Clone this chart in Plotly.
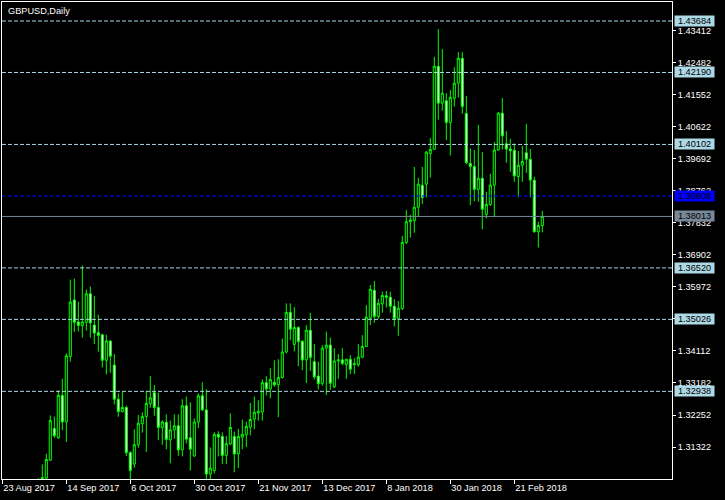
import pandas as pd
import plotly.graph_objects as go

# ---------------- data ----------------
chart_title = "GBPUSD,Daily"
first_day = "2017-08-23"
last_day = "2018-03-02"
holidays = ["2017-12-25", "2018-01-01"]

tick_dates = ["2017-08-23", "2017-09-14", "2017-10-06", "2017-10-30", "2017-11-21",
              "2017-12-13", "2018-01-08", "2018-01-30", "2018-02-21"]
tick_labels = ["23 Aug 2017", "14 Sep 2017", "6 Oct 2017", "30 Oct 2017", "21 Nov 2017",
               "13 Dec 2017", "8 Jan 2018", "30 Jan 2018", "21 Feb 2018"]

price_ticks = [1.31322, 1.32252, 1.33182, 1.34112, 1.35042, 1.35972, 1.36902,
               1.37832, 1.38762, 1.39692, 1.40622, 1.41552, 1.42482, 1.43412]

level_lines = [1.43684, 1.42190, 1.40102, 1.36520, 1.35026, 1.32938]
alert_level = 1.38608
bid_level = 1.38013

# daily candles, 5 Sep 2017 .. 2 Mar 2018 (earlier bars lie below the visible range)
open_ = [1.2935, 1.3000, 1.3042, 1.3094, 1.3186, 1.3159, 1.3282, 1.3205, 1.3395, 1.3559,
         1.3495, 1.3485, 1.3494, 1.3577, 1.3486, 1.3464, 1.3458, 1.3384, 1.3440, 1.3370,
         1.3271, 1.3235, 1.3247, 1.3116, 1.3083, 1.3139, 1.3200, 1.3221, 1.3258, 1.3290,
         1.3247, 1.3189, 1.3204, 1.3153, 1.3182, 1.3194, 1.3124, 1.3252, 1.3159, 1.3106,
         1.3205, 1.3281, 1.3240, 1.3054, 1.3064, 1.3169, 1.3163, 1.3108, 1.3141, 1.3163,
         1.3112, 1.3161, 1.3168, 1.3190, 1.3213, 1.3231, 1.3234, 1.3319, 1.3301, 1.3320,
         1.3313, 1.3334, 1.3408, 1.3523, 1.3430, 1.3479, 1.3439, 1.3385, 1.3471, 1.3380,
         1.3338, 1.3317, 1.3419, 1.3428, 1.3307, 1.3382, 1.3385, 1.3372, 1.3387, 1.3371,
         1.3371, 1.3393, 1.3424, 1.3506, 1.3587, 1.3511, 1.3548, 1.3571, 1.3567, 1.3541,
         1.3504, 1.3534, 1.3726, 1.3786, 1.3789, 1.3828, 1.3892, 1.3895, 1.3984, 1.3996,
         1.4237, 1.4130, 1.4137, 1.4074, 1.4144, 1.4188, 1.4260, 1.4100, 1.3955, 1.3946,
         1.3880, 1.3912, 1.3807, 1.3836, 1.3892, 1.3994, 1.4101, 1.4012, 1.3997, 1.3993,
         1.3917, 1.3950, 1.3986, 1.3967, 1.3906, 1.3757, 1.3775]
high = [1.3042, 1.3082, 1.3113, 1.3224, 1.3221, 1.3297, 1.3330, 1.3404, 1.3618, 1.3621,
        1.3554, 1.3659, 1.3589, 1.3598, 1.3571, 1.3516, 1.3461, 1.3458, 1.3443, 1.3402,
        1.3288, 1.3293, 1.3252, 1.3120, 1.3184, 1.3225, 1.3233, 1.3295, 1.3338, 1.3312,
        1.3290, 1.3210, 1.3227, 1.3209, 1.3227, 1.3227, 1.3271, 1.3279, 1.3262, 1.3215,
        1.3288, 1.3320, 1.3300, 1.3131, 1.3175, 1.3178, 1.3175, 1.3164, 1.3230, 1.3177,
        1.3185, 1.3212, 1.3206, 1.3260, 1.3279, 1.3268, 1.3329, 1.3338, 1.3361, 1.3384,
        1.3387, 1.3447, 1.3549, 1.3549, 1.3538, 1.3483, 1.3442, 1.3486, 1.3521, 1.3431,
        1.3380, 1.3428, 1.3467, 1.3450, 1.3419, 1.3402, 1.3419, 1.3387, 1.3399, 1.3390,
        1.3431, 1.3457, 1.3544, 1.3602, 1.3614, 1.3562, 1.3583, 1.3585, 1.3583, 1.3561,
        1.3556, 1.3745, 1.3820, 1.3806, 1.3945, 1.3913, 1.3945, 1.3991, 1.4029, 1.4264,
        1.4345, 1.4287, 1.4159, 1.4168, 1.4234, 1.4278, 1.4278, 1.4151, 1.3999, 1.3994,
        1.4067, 1.3988, 1.3873, 1.3925, 1.4017, 1.4104, 1.4145, 1.4049, 1.4026, 1.4013,
        1.3991, 1.4006, 1.4070, 1.3997, 1.3917, 1.3786, 1.3817]
low = [1.2925, 1.2985, 1.3030, 1.3092, 1.3159, 1.3156, 1.3181, 1.3147, 1.3380, 1.3466,
       1.3468, 1.3450, 1.3470, 1.3450, 1.3431, 1.3409, 1.3363, 1.3343, 1.3348, 1.3256,
       1.3220, 1.3233, 1.3106, 1.3028, 1.3072, 1.3130, 1.3174, 1.3118, 1.3246, 1.3223,
       1.3152, 1.3139, 1.3126, 1.3085, 1.3156, 1.3107, 1.3105, 1.3143, 1.3064, 1.3105,
       1.3187, 1.3237, 1.3037, 1.3037, 1.3056, 1.3105, 1.3083, 1.3083, 1.3138, 1.3059,
       1.3071, 1.3126, 1.3132, 1.3166, 1.3184, 1.3209, 1.3209, 1.3282, 1.3274, 1.3307,
       1.3219, 1.3331, 1.3404, 1.3442, 1.3410, 1.3367, 1.3355, 1.3318, 1.3353, 1.3328,
       1.3300, 1.3310, 1.3283, 1.3298, 1.3303, 1.3330, 1.3370, 1.3330, 1.3344, 1.3344,
       1.3365, 1.3390, 1.3423, 1.3486, 1.3493, 1.3504, 1.3522, 1.3537, 1.3522, 1.3482,
       1.3455, 1.3530, 1.3721, 1.3740, 1.3754, 1.3803, 1.3837, 1.3857, 1.3914, 1.3994,
       1.4082, 1.4108, 1.4023, 1.3978, 1.4120, 1.4147, 1.4100, 1.3953, 1.3834, 1.3846,
       1.3844, 1.3764, 1.3796, 1.3832, 1.3799, 1.3992, 1.3996, 1.3957, 1.3931, 1.3902,
       1.3857, 1.3902, 1.3928, 1.3856, 1.3754, 1.3711, 1.3755]
close = [1.3000, 1.3044, 1.3096, 1.3209, 1.3165, 1.3282, 1.3205, 1.3397, 1.3553, 1.3494,
         1.3485, 1.3495, 1.3577, 1.3492, 1.3463, 1.3456, 1.3384, 1.3440, 1.3396, 1.3271,
         1.3235, 1.3247, 1.3116, 1.3064, 1.3139, 1.3201, 1.3221, 1.3259, 1.3275, 1.3247,
         1.3189, 1.3205, 1.3154, 1.3182, 1.3194, 1.3124, 1.3252, 1.3155, 1.3126, 1.3205,
         1.3281, 1.3240, 1.3054, 1.3071, 1.3169, 1.3161, 1.3108, 1.3142, 1.3189, 1.3112,
         1.3163, 1.3169, 1.3192, 1.3212, 1.3233, 1.3236, 1.3319, 1.3301, 1.3328, 1.3313,
         1.3334, 1.3408, 1.3523, 1.3474, 1.3479, 1.3438, 1.3385, 1.3471, 1.3392, 1.3336,
         1.3316, 1.3419, 1.3428, 1.3317, 1.3382, 1.3385, 1.3375, 1.3387, 1.3358, 1.3374,
         1.3393, 1.3424, 1.3509, 1.3590, 1.3511, 1.3549, 1.3572, 1.3567, 1.3541, 1.3505,
         1.3535, 1.3726, 1.3786, 1.3791, 1.3828, 1.3895, 1.3856, 1.3988, 1.3996, 1.4237,
         1.4130, 1.4159, 1.4074, 1.4147, 1.4188, 1.4260, 1.4120, 1.3957, 1.3946, 1.3880,
         1.3912, 1.3822, 1.3836, 1.3892, 1.3994, 1.4101, 1.4035, 1.3997, 1.3992, 1.3919,
         1.3950, 1.3961, 1.3967, 1.3907, 1.3757, 1.3775, 1.38013]

# ---------------- positions (trading-day index) ----------------
days = pd.bdate_range(first_day, last_day)
days = days[~days.isin(pd.to_datetime(holidays))]
index_of = {d.strftime("%Y-%m-%d"): i for i, d in enumerate(days)}
n_days = len(days)
x = list(range(n_days - len(open_), n_days))
tickvals = [index_of[d] for d in tick_dates]

green = "#00FF00"
font_family = "Liberation Sans, Arial, sans-serif"
fsize = 9.2

fig = go.Figure(go.Candlestick(
    x=x, open=open_, high=high, low=low, close=close,
    increasing=dict(line=dict(color=green, width=1), fillcolor="#000000"),
    decreasing=dict(line=dict(color=green, width=1), fillcolor="#FFFFFF"),
    whiskerwidth=0, hoverinfo="skip", showlegend=False,
))

shapes = []
for lv in level_lines:
    shapes.append(dict(type="line", xref="paper", x0=0, x1=1, yref="y", y0=lv, y1=lv,
                       line=dict(color="#ADD8E6", width=1, dash="4px,2px"), layer="above"))
shapes.append(dict(type="line", xref="paper", x0=0, x1=1, yref="y", y0=alert_level, y1=alert_level,
                   line=dict(color="#0000FF", width=1, dash="4px,2px"), layer="above"))
shapes.append(dict(type="line", xref="paper", x0=0, x1=1, yref="y", y0=bid_level, y1=bid_level,
                   line=dict(color="#778899", width=1), layer="above"))

annotations = [dict(text=chart_title, xref="paper", yref="paper", x=0, y=1,
                    xanchor="left", yanchor="top", xshift=4, yshift=-2, showarrow=False,
                    font=dict(family=font_family, size=fsize, color="white"))]


def level_box(val, bg):
    return dict(text=f"{val:.5f}", xref="paper", yref="y", x=1, y=val,
                xanchor="left", yanchor="middle", xshift=2, showarrow=False,
                bgcolor=bg, borderpad=0, width=39, height=10,
                font=dict(family=font_family, size=fsize, color="black"))


for lv in level_lines:
    annotations.append(level_box(lv, "#ADD8E6"))
annotations.append(level_box(alert_level, "#0000FF"))
annotations.append(level_box(bid_level, "#778899"))

fig.update_layout(
    width=725, height=500,
    margin=dict(l=2, r=53, t=2, b=21),
    paper_bgcolor="black", plot_bgcolor="black",
    font=dict(family=font_family, size=fsize, color="white"),
    boxgap=0.25, showlegend=False, hovermode=False,
    shapes=shapes, annotations=annotations,
    xaxis=dict(range=[-0.075, 167.425], rangeslider=dict(visible=False),
               showgrid=False, zeroline=False, showline=True, linecolor="white",
               linewidth=1, mirror=True, ticks="outside", ticklen=4, tickcolor="white",
               tickwidth=1, tickvals=tickvals, ticktext=tick_labels,
               ticklabelposition="outside right",
               tickfont=dict(family=font_family, size=fsize, color="white")),
    yaxis=dict(side="right", range=[1.30395, 1.44235], showgrid=False, zeroline=False,
               showline=True, linecolor="white", linewidth=1, mirror=True,
               ticks="outside", ticklen=3, tickcolor="white", tickwidth=1,
               tickvals=price_ticks, tickformat=".5f",
               tickfont=dict(family=font_family, size=fsize, color="white")),
)

fig.write_html(
    "out.html",
    config={"displayModeBar": False},
    post_script="document.body.style.margin='0';document.body.style.overflow='hidden';",
)
